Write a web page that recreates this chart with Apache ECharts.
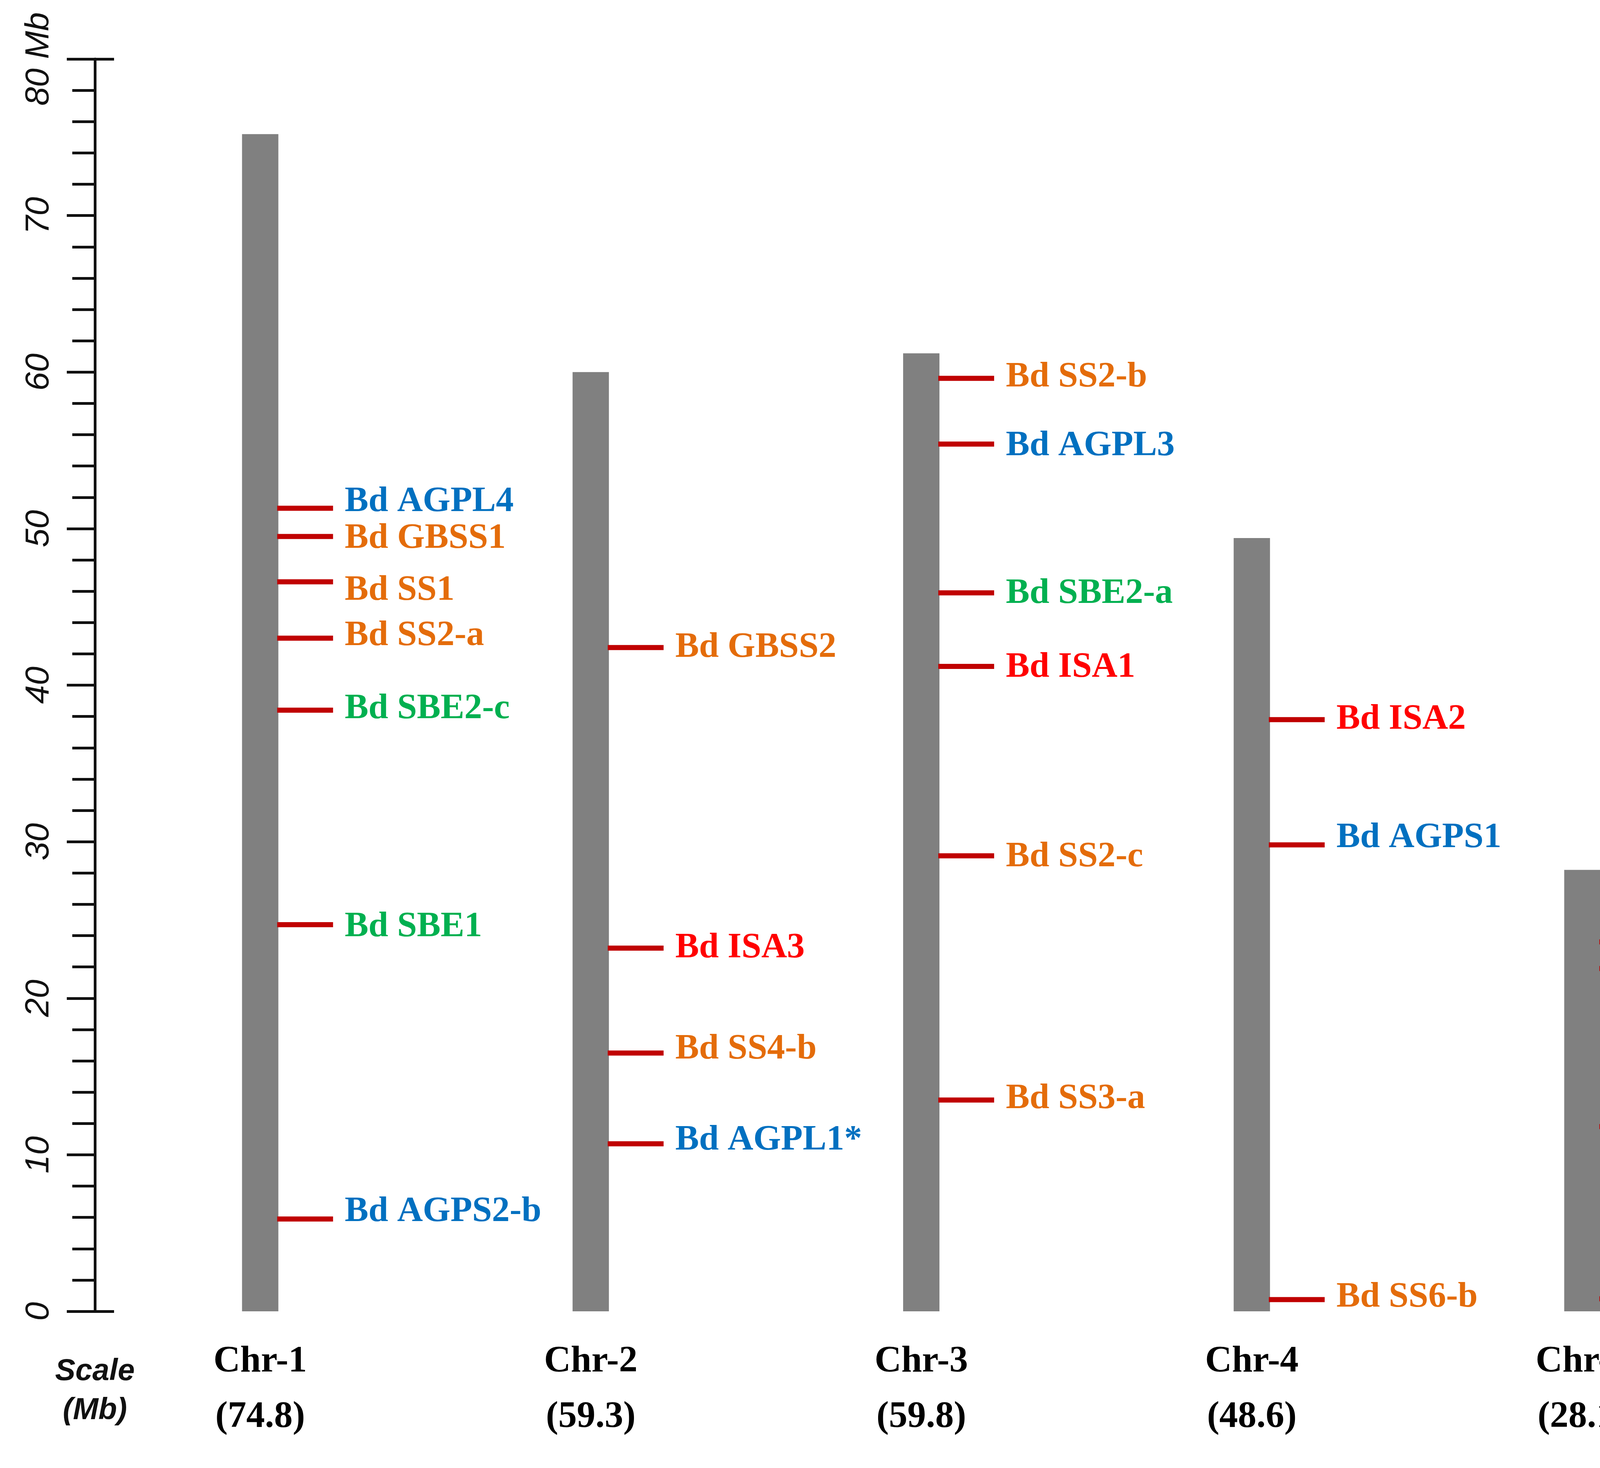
<!DOCTYPE html>
<html>
<head>
<meta charset="utf-8">
<script src="https://cdn.jsdelivr.net/npm/echarts@6/dist/echarts.min.js"></script>
<style>
  html, body { margin: 0; padding: 0; background: #fff; }
  #chart { width: 4857px; height: 3757px; }
</style>
</head>
<body>
<div id="chart"></div>
<script>
// chromosomes
var chrNames = ['Chr-1', 'Chr-2', 'Chr-3', 'Chr-4', 'Chr-5'];
var chrSizeText = ['74.8', '59.3', '59.8', '48.6', '28.1'];
var chrLength = [75.2, 60.0, 61.2, 49.4, 28.2];

// genes (chromosome index, position in Mb)
var geneNames = [
    'Bd AGPL4', 'Bd GBSS1', 'Bd SS1', 'Bd SS2-a', 'Bd SBE2-c', 'Bd SBE1', 'Bd AGPS2-b',
    'Bd GBSS2', 'Bd ISA3', 'Bd SS4-b', 'Bd AGPL1*',
    'Bd SS2-b', 'Bd AGPL3', 'Bd SBE2-a', 'Bd ISA1', 'Bd SS2-c', 'Bd SS3-a',
    'Bd ISA2', 'Bd AGPS1', 'Bd SS6-b',
    'Bd SS3-b', 'Bd AGPS2-a', 'Bd SBE2-b', 'Bd Pul'
];
var geneChr = [
    0, 0, 0, 0, 0, 0, 0,
    1, 1, 1, 1,
    2, 2, 2, 2, 2, 2,
    3, 3, 3,
    4, 4, 4, 4
];
var genePos = [
    51.3, 49.5, 46.6, 43.0, 38.4, 24.7, 5.9,
    42.4, 23.2, 16.5, 10.7,
    59.6, 55.4, 45.9, 41.2, 29.1, 13.5,
    37.8, 29.8, 0.75,
    23.6, 21.9, 11.8, 0.8
];

// y axis ticks
var yMin = 0, yMax = 80, yStep = 10;

// label nudges (px, + is down), same order as geneNames
var labelDy = [
    -16, 6, 22, -6, -3, 6, -18,
    0, 0, -9, -9,
    -3, 5, 2, 3, 3, -3,
    0, -18, -5,
    -14, 21, -6, -5
];

var BAR_W = 93;
var MARK_LEN = 143;

function geneColor(name) {
    if (name.indexOf('AGP') >= 0) return '#0070C0';
    if (name.indexOf('SBE') >= 0) return '#00B050';
    if (name.indexOf('ISA') >= 0) return '#FF0000';
    if (name.indexOf('SS') >= 0) return '#E46C0A';
    return '#000000';
}

var geneData = [];
geneNames.forEach(function (n, i) {
    geneData.push([geneChr[i], genePos[i], i]);
});

var chart = echarts.init(document.getElementById('chart'));
var option = {
    backgroundColor: '#ffffff',
    animation: false,
    grid: {
        left: 243,
        right: 383,
        top: 151,
        bottom: 401,
        outerBoundsMode: 'none'
    },
    xAxis: {
        type: 'category',
        data: chrNames,
        boundaryGap: true,
        axisLine: { show: false },
        axisTick: { show: false },
        splitLine: { show: false },
        axisLabel: {
            margin: 58,
            fontFamily: 'Liberation Serif',
            fontWeight: 'bold',
            fontSize: 95,
            lineHeight: 142,
            color: '#000',
            formatter: function (v, i) {
                return v + '\n(' + chrSizeText[i] + ')';
            }
        }
    },
    yAxis: [{
        type: 'value',
        min: yMin,
        max: yMax,
        interval: yStep,
        position: 'left',
        name: 'Scale\n(Mb)',
        nameLocation: 'start',
        nameGap: 104,
        nameTextStyle: {
            fontFamily: 'Liberation Sans',
            fontStyle: 'italic',
            fontWeight: 'bold',
            fontSize: 78,
            lineHeight: 100,
            color: '#111'
        },
        axisLine: { show: true, lineStyle: { color: '#111', width: 7 } },
        axisTick: { show: true, length: 72, lineStyle: { color: '#111', width: 7 } },
        minorTick: { show: true, splitNumber: 5, length: 58, lineStyle: { color: '#111', width: 7 } },
        splitLine: { show: false },
        minorSplitLine: { show: false },
        axisLabel: {
            rotate: 90,
            margin: 100,
            fontFamily: 'Liberation Sans',
            fontStyle: 'italic',
            fontSize: 86,
            color: '#111',
            formatter: function (v) {
                return v === yMax ? v + ' Mb' : String(v);
            }
        }
    }, {
        type: 'value',
        min: yMin,
        max: yMax,
        interval: yMax - yMin,
        position: 'left',
        axisLine: { show: false },
        axisTick: { show: true, inside: true, length: 49, lineStyle: { color: '#111', width: 7 } },
        axisLabel: { show: false },
        splitLine: { show: false }
    }],
    series: [{
        type: 'bar',
        data: chrLength,
        barWidth: BAR_W,
        itemStyle: { color: '#808080' },
        silent: true,
        z: 2
    }, {
        type: 'custom',
        data: geneData,
        clip: false,
        z: 3,
        renderItem: function (params, api) {
            var i = api.value(2);
            var p = api.coord([api.value(0), api.value(1)]);
            var x0 = p[0] + BAR_W / 2 - 3;
            return {
                type: 'group',
                children: [{
                    type: 'rect',
                    shape: { x: x0, y: p[1] - 6.5, width: MARK_LEN, height: 13 },
                    style: { fill: '#C00000' }
                }, {
                    type: 'text',
                    x: x0 + MARK_LEN + 30,
                    y: p[1] + labelDy[i],
                    style: {
                        text: geneNames[i],
                        fill: geneColor(geneNames[i]),
                        fontFamily: 'Liberation Serif',
                        fontWeight: 'bold',
                        fontSize: 91,
                        align: 'left',
                        verticalAlign: 'middle'
                    }
                }]
            };
        }
    }]
};
chart.setOption(option);
</script>
</body>
</html>
